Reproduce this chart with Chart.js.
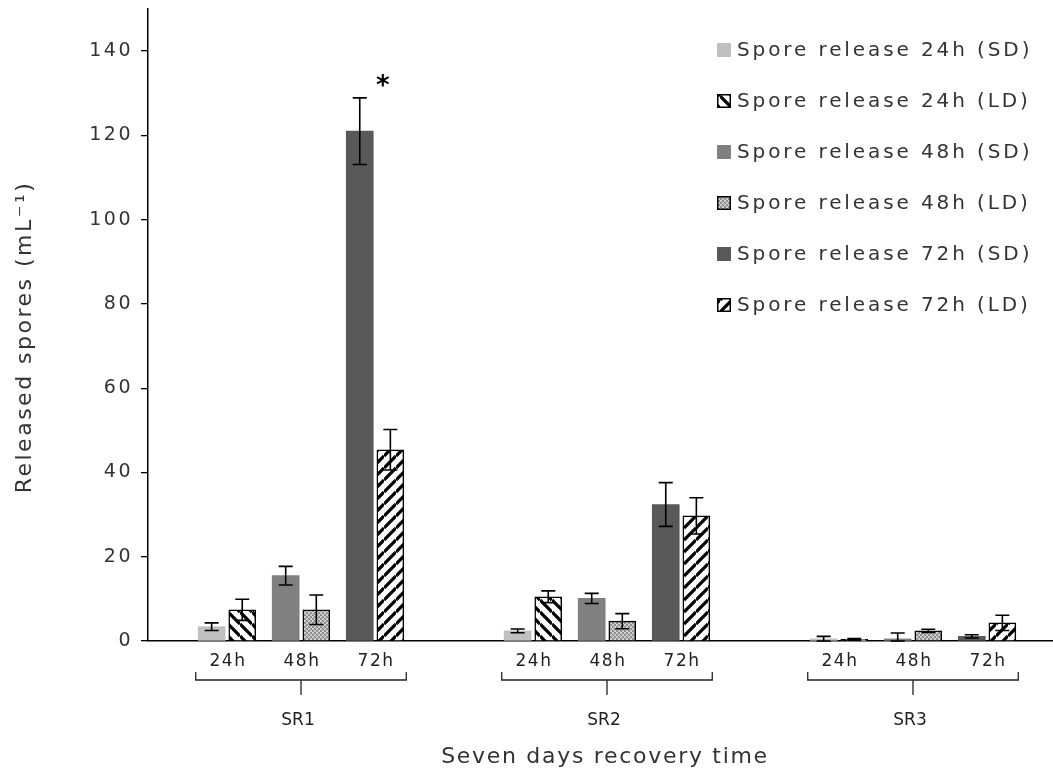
<!DOCTYPE html>
<html>
<head>
<meta charset="utf-8">
<script src="https://cdn.jsdelivr.net/npm/chart.js@4/dist/chart.umd.min.js"></script>
<style>
  html, body { margin: 0; padding: 0; background: #fff; overflow: hidden; }
  #wrap { position: relative; width: 1070px; height: 771px; }
</style>
</head>
<body>
<div id="wrap"><canvas id="c" width="1070" height="771"></canvas></div>
<script>
// Recovery groups and sampling times
const groups = ['SR1', 'SR2', 'SR3'];
const times = ['24h', '48h', '72h'];
const seriesNames = [
  'Spore release 24h (SD)', 'Spore release 24h (LD)',
  'Spore release 48h (SD)', 'Spore release 48h (LD)',
  'Spore release 72h (SD)', 'Spore release 72h (LD)'
];

// Mean released spores (mL-1), one value per recovery group
const sd24 = [3.4, 2.4, 0.5];
const ld24 = [7.4, 10.5, 0.4];
const sd48 = [15.5, 10.1, 0.5];
const ld48 = [7.4, 4.7, 2.4];
const sd72 = [121.0, 32.4, 1.1];
const ld72 = [45.4, 29.7, 4.3];

// Error bar half-lengths
const sd24Err = [0.9, 0.45, 0.6];
const ld24Err = [2.5, 1.4, 0.2];
const sd48Err = [2.2, 1.2, 1.4];
const ld48Err = [3.5, 1.8, 0.4];
const sd72Err = [7.9, 5.2, 0.4];
const ld72Err = [4.8, 4.3, 1.8];

const yTicks = [0, 20, 40, 60, 80, 100, 120, 140];
const yTitle = 'Released spores (mL\u207B\u00B9)';
const xTitle = 'Seven days recovery time';

// Significance marks: series index, group index, symbol
const marks = [{ series: 4, group: 0, text: '*' }];

// ---- fill patterns ----
function stripePattern(dir) {
  const s = 12;
  const c = document.createElement('canvas');
  c.width = s; c.height = s;
  const g = c.getContext('2d');
  g.fillStyle = '#fff';
  g.fillRect(0, 0, s, s);
  g.strokeStyle = '#000';
  g.lineWidth = 3.3;
  g.beginPath();
  if (dir === 'back') {
    for (let k = -1; k <= 1; k++) { g.moveTo(0, k * s); g.lineTo(s, s + k * s); }
  } else {
    for (let k = -1; k <= 1; k++) { g.moveTo(0, s + k * s); g.lineTo(s, k * s); }
  }
  g.stroke();
  return g.createPattern(c, 'repeat');
}
function dotPattern() {
  const s = 4;
  const c = document.createElement('canvas');
  c.width = s; c.height = s;
  const g = c.getContext('2d');
  g.fillStyle = '#8c8c8c';
  g.fillRect(0, 0, s, s);
  g.fillStyle = '#d4d4d4';
  g.fillRect(0, 0, 2, 2);
  g.fillRect(2, 2, 2, 2);
  g.fillStyle = '#aaaaaa';
  g.fillRect(1, 1, 2, 2);
  return g.createPattern(c, 'repeat');
}

const fills = [
  '#c0c0c0', stripePattern('back'),
  '#808080', dotPattern(),
  '#595959', stripePattern('fwd')
];
const values = [sd24, ld24, sd48, ld48, sd72, ld72];
const errors = [sd24Err, ld24Err, sd48Err, ld48Err, sd72Err, ld72Err];

// Bar placement inside a recovery group (in x-scale units; one group = 1 unit)
const slotStep = 0.242;
const pairStep = 0.05;
function barX(seriesIdx, groupIdx) {
  const t = Math.floor(seriesIdx / 2);
  const ld = seriesIdx % 2 === 1;
  return groupIdx + 0.5 + (t - 1) * slotStep + (ld ? pairStep : -pairStep);
}

const datasets = seriesNames.map((name, si) => ({
  label: name,
  data: values[si].map((v, gi) => ({ x: barX(si, gi), y: v })),
  err: errors[si],
  backgroundColor: fills[si],
  borderColor: '#000',
  borderWidth: si % 2 === 1 ? 1.5 : 0,
  borderSkipped: 'bottom',
  barThickness: 27,
  grouped: false
}));

const FONT = '"DejaVu Sans", Verdana, sans-serif';

const errorBarPlugin = {
  id: 'errorBars',
  afterDatasetsDraw(chart) {
    const ctx = chart.ctx;
    const y = chart.scales.y;
    ctx.save();
    ctx.strokeStyle = '#000';
    ctx.lineWidth = 1.6;
    chart.data.datasets.forEach((ds, di) => {
      const meta = chart.getDatasetMeta(di);
      meta.data.forEach((bar, i) => {
        const v = ds.data[i].y, e = ds.err[i];
        const yT = y.getPixelForValue(v + e);
        const yB = y.getPixelForValue(Math.max(0, v - e));
        const cap = 7;
        ctx.beginPath();
        ctx.moveTo(bar.x, yT); ctx.lineTo(bar.x, yB);
        ctx.moveTo(bar.x - cap, yT); ctx.lineTo(bar.x + cap, yT);
        ctx.moveTo(bar.x - cap, yB); ctx.lineTo(bar.x + cap, yB);
        ctx.stroke();
      });
    });
    // significance marks above the error bar
    ctx.fillStyle = '#000';
    ctx.font = 'bold 26px ' + FONT;
    ctx.letterSpacing = '0px';
    ctx.textAlign = 'center';
    ctx.textBaseline = 'middle';
    marks.forEach(m => {
      const bar = chart.getDatasetMeta(m.series).data[m.group];
      const ds = chart.data.datasets[m.series];
      const yT = y.getPixelForValue(ds.data[m.group].y + ds.err[m.group]);
      ctx.fillText(m.text, bar.x + 23, yT - 11);
    });
    ctx.restore();
  }
};

const axisLabelPlugin = {
  id: 'axisLabels',
  beforeDraw(chart) {
    chart.ctx.letterSpacing = '2.5px';
  },
  afterDraw(chart) {
    const ctx = chart.ctx;
    const x = chart.scales.x;
    const area = chart.chartArea;
    ctx.save();
    ctx.fillStyle = '#222';
    ctx.textAlign = 'center';
    ctx.textBaseline = 'middle';
    groups.forEach((gName, gi) => {
      ctx.font = '17px ' + FONT;
      ctx.letterSpacing = '1.5px';
      times.forEach((t, ti) => {
        const px = x.getPixelForValue(gi + 0.5 + (ti - 1) * slotStep);
        ctx.fillText(t, px + 1, area.bottom + 21);
      });
      // bracket under each recovery group
      const cx = x.getPixelForValue(gi + 0.5);
      const half = 0.344 * (x.getPixelForValue(1) - x.getPixelForValue(0));
      const by = area.bottom + 39;
      ctx.strokeStyle = '#222';
      ctx.lineWidth = 1.3;
      ctx.beginPath();
      ctx.moveTo(cx - half, by - 8); ctx.lineTo(cx - half, by);
      ctx.lineTo(cx + half, by); ctx.lineTo(cx + half, by - 8);
      ctx.moveTo(cx, by); ctx.lineTo(cx, by + 15);
      ctx.stroke();
      ctx.font = '17px ' + FONT;
      ctx.letterSpacing = '0px';
      ctx.fillText(gName, cx - 3, area.bottom + 80);
    });
    ctx.font = '22px ' + FONT;
    ctx.letterSpacing = '1.7px';
    ctx.fillStyle = '#333';
    ctx.fillText(xTitle, 605, area.bottom + 116);

    // vertical axis title
    ctx.save();
    ctx.translate(25, (area.top + area.bottom) / 2 + 12);
    ctx.rotate(-Math.PI / 2);
    ctx.font = '22px ' + FONT;
    ctx.letterSpacing = '2.5px';
    ctx.fillStyle = '#333';
    ctx.fillText(yTitle, 0, 0);
    ctx.restore();

    // legend
    const lx = 717, ly = 50, step = 51, box = 14;
    chart.data.datasets.forEach((ds, i) => {
      const cy = ly + i * step;
      ctx.fillStyle = ds.backgroundColor;
      ctx.fillRect(lx, cy - box / 2, box, box);
      if (i % 2 === 1) {
        ctx.strokeStyle = '#000';
        ctx.lineWidth = 1.5;
        ctx.strokeRect(lx + 0.75, cy - box / 2 + 0.75, box - 1.5, box - 1.5);
      }
      ctx.fillStyle = '#333';
      ctx.font = '20px ' + FONT;
      ctx.letterSpacing = '2.9px';
      ctx.textAlign = 'left';
      ctx.fillText(ds.label, lx + 20, cy + 1);
    });
    ctx.restore();
  }
};

new Chart(document.getElementById('c'), {
  type: 'bar',
  data: { datasets },
  options: {
    responsive: false,
    animation: false,
    events: [],
    layout: { padding: { top: 9, right: 4, bottom: 130, left: 0 } },
    plugins: { legend: { display: false }, tooltip: { enabled: false } },
    scales: {
      x: {
        type: 'linear',
        min: 0,
        max: 3,
        offset: false,
        grid: { display: false, drawTicks: false, offset: false },
        ticks: { display: false, stepSize: 1 },
        border: { display: true, color: '#000', width: 1.5 },
        afterFit(scale) { scale.height = 0; scale.paddingLeft = 0; scale.paddingRight = 0; }
      },
      y: {
        min: 0,
        max: 150,
        afterBuildTicks(scale) { scale.ticks = yTicks.map(v => ({ value: v })); },
        afterFit(scale) { scale.width = 148; scale.paddingTop = 0; scale.paddingBottom = 0; },
        grid: { display: true, drawOnChartArea: false, drawTicks: true, tickLength: 7, color: '#000', lineWidth: 1.3 },
        border: { display: true, color: '#000', width: 1.5 },
        ticks: { color: '#333', padding: 8, font: { family: FONT, size: 19 } },
        title: { display: false }
      }
    }
  },
  plugins: [errorBarPlugin, axisLabelPlugin]
});
</script>
</body>
</html>
